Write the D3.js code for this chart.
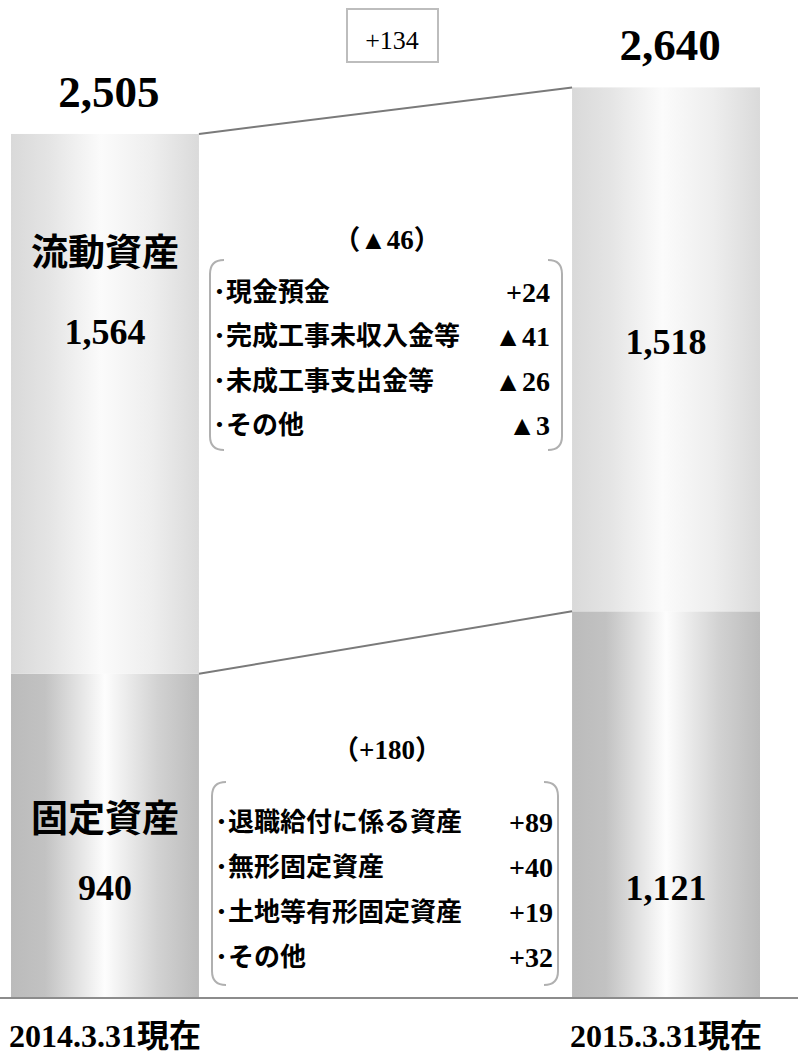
<!DOCTYPE html>
<html>
<head>
<meta charset="utf-8">
<script src="https://cdn.jsdelivr.net/npm/d3@7"></script>
<style>
  body { margin: 0; background: #fff; }
  text { font-family: "Liberation Serif", "Noto Sans CJK JP", serif; }
</style>
</head>
<body>
<script>
// data (百万円)
const periods = ["2014.3.31現在", "2015.3.31現在"];
const totals = [2505, 2640];
const currentAssets = [1564, 1518];
const fixedAssets = [940, 1121];
const segmentNames = ["流動資産", "固定資産"];
const totalChange = 134;
const currentChange = -46;
const fixedChange = 180;
const currentItems = ["現金預金", "完成工事未収入金等", "未成工事支出金等", "その他"];
const currentItemValues = [24, -41, -26, -3];
const fixedItems = ["退職給付に係る資産", "無形固定資産", "土地等有形固定資産", "その他"];
const fixedItemValues = [89, 40, 19, 32];

const W = 798, H = 1053;
const baseY = 998;

const svg = d3.select("body").append("svg")
  .attr("width", W)
  .attr("height", H);

const x = d3.scaleBand()
  .domain(periods)
  .range([11, 760])
  .paddingInner(0.665)
  .paddingOuter(0);
const bw = x.bandwidth();

const y = d3.scaleLinear()
  .domain([0, 2640])
  .range([baseY, 87.4]);

const fmt = d3.format(",");
const signed = v => (v < 0 ? "▲" + Math.abs(v) : "+" + v);

// gradients
const defs = svg.append("defs");
function grad(id, stops) {
  const g = defs.append("linearGradient").attr("id", id)
    .attr("x1", "0%").attr("x2", "100%").attr("y1", "0%").attr("y2", "0%");
  stops.forEach(s => g.append("stop").attr("offset", s[0]).attr("stop-color", s[1]));
}
grad("gTop", [["0%", "#d9d9d9"], ["20%", "#e4e4e4"], ["48%", "#fbfbfb"], ["75%", "#eeeeee"], ["100%", "#dadada"]]);
grad("gBot", [["0%", "#bbbbbb"], ["18%", "#c2c2c2"], ["50%", "#fdfdfd"], ["78%", "#d2d2d2"], ["100%", "#bbbbbb"]]);

// bars: fixed (bottom) and current (top)
svg.selectAll("rect.fixed")
  .data(periods)
  .enter().append("rect")
  .attr("class", "fixed")
  .attr("x", d => x(d))
  .attr("width", bw)
  .attr("y", (d, i) => y(fixedAssets[i]))
  .attr("height", (d, i) => y(0) - y(fixedAssets[i]))
  .attr("fill", "url(#gBot)");

svg.selectAll("rect.current")
  .data(periods)
  .enter().append("rect")
  .attr("class", "current")
  .attr("x", d => x(d))
  .attr("width", bw)
  .attr("y", (d, i) => y(totals[i]))
  .attr("height", (d, i) => y(fixedAssets[i]) - y(totals[i]))
  .attr("fill", "url(#gTop)");

// connecting lines
[totals, fixedAssets].forEach(arr => {
  svg.append("line")
    .attr("x1", x(periods[0]) + bw).attr("y1", y(arr[0]))
    .attr("x2", x(periods[1])).attr("y2", y(arr[1]))
    .attr("stroke", "#7a7a7a").attr("stroke-width", 2);
});

// baseline
svg.append("line")
  .attr("x1", 0).attr("x2", W)
  .attr("y1", baseY).attr("y2", baseY)
  .attr("stroke", "#8c8c8c").attr("stroke-width", 2);

// totals above bars
svg.selectAll("text.total")
  .data(periods)
  .enter().append("text")
  .attr("x", d => x(d) + bw / 2 + 4)
  .attr("y", (d, i) => y(totals[i]) - 27)
  .attr("text-anchor", "middle")
  .attr("font-size", 45).attr("font-weight", "bold")
  .text((d, i) => fmt(totals[i]));

// total change box
svg.append("rect")
  .attr("x", 347).attr("y", 9).attr("width", 91).attr("height", 53)
  .attr("fill", "#fff").attr("stroke", "#bdbdbd").attr("stroke-width", 2);
svg.append("text")
  .attr("x", 392).attr("y", 49)
  .attr("text-anchor", "middle")
  .attr("font-size", 26)
  .text("+" + totalChange);

// segment names (left bar)
const c0 = x(periods[0]) + bw / 2;
const c1 = x(periods[1]) + bw / 2;
[[253, segmentNames[0]], [819, segmentNames[1]]].forEach(([yy, t]) => {
  svg.append("text")
    .attr("x", c0).attr("y", yy)
    .attr("text-anchor", "middle").attr("dominant-baseline", "central")
    .attr("font-family", "Noto Sans CJK JP")
    .attr("font-size", 37).attr("font-weight", "bold")
    .text(t);
});

// segment values
const valLabels = [
  [c0, 344, currentAssets[0]],
  [c1, 354, currentAssets[1]],
  [c0, 900, fixedAssets[0]],
  [c1, 900, fixedAssets[1]]
];
valLabels.forEach(([xx, yy, v]) => {
  svg.append("text")
    .attr("x", xx).attr("y", yy)
    .attr("text-anchor", "middle")
    .attr("font-size", 36).attr("font-weight", "bold")
    .text(fmt(v));
});

// breakdown blocks
function bracket(x0, x1, top, bottom) {
  const r = 14;
  const lp = d3.path();
  lp.moveTo(x0 + r, top);
  lp.quadraticCurveTo(x0, top, x0, top + r);
  lp.lineTo(x0, bottom - r);
  lp.quadraticCurveTo(x0, bottom, x0 + r, bottom);
  const rp = d3.path();
  rp.moveTo(x1 - r, top);
  rp.quadraticCurveTo(x1, top, x1, top + r);
  rp.lineTo(x1, bottom - r);
  rp.quadraticCurveTo(x1, bottom, x1 - r, bottom);
  [lp, rp].forEach(p => svg.append("path")
    .attr("d", p.toString())
    .attr("fill", "none").attr("stroke", "#b0b0b0").attr("stroke-width", 2));
}

function block(change, items, values, headY, top, bottom, firstRow, rowStep, x0, x1, numRight) {
  svg.append("text")
    .attr("x", 387).attr("y", headY)
    .attr("text-anchor", "middle").attr("dominant-baseline", "central")
    .attr("font-size", 27).attr("font-weight", "bold")
    .text("（" + signed(change) + "）");
  bracket(x0, x1, top, bottom);
  items.forEach((t, i) => {
    const yy = firstRow + i * rowStep;
    svg.append("text")
      .attr("x", x0 + 3).attr("y", yy)
      .attr("dominant-baseline", "central")
      .attr("font-family", "Noto Sans CJK JP")
      .attr("font-size", 26).attr("font-weight", "bold")
      .text("･" + t);
    svg.append("text")
      .attr("x", numRight).attr("y", yy)
      .attr("text-anchor", "end").attr("dominant-baseline", "central")
      .attr("font-size", 28).attr("font-weight", "bold")
      .text(signed(values[i]));
  });
}

block(currentChange, currentItems, currentItemValues, 240, 260, 450, 292, 44.5, 210, 562, 550);
block(fixedChange, fixedItems, fixedItemValues, 750, 782, 985, 822, 45, 212, 558, 553);

// period labels
svg.selectAll("text.period")
  .data(periods)
  .enter().append("text")
  .attr("x", d => x(d) + bw / 2)
  .attr("y", 1047)
  .attr("text-anchor", "middle")
  .attr("font-size", 32).attr("font-weight", "bold")
  .text(d => d);
</script>
</body>
</html>
